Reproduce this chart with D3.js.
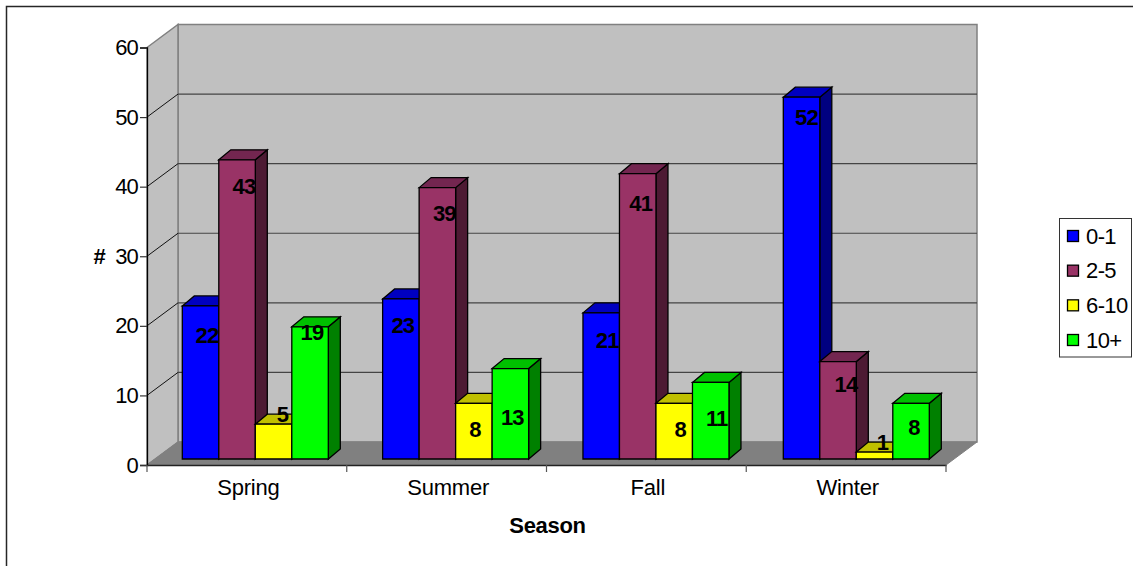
<!DOCTYPE html>
<html>
<head>
<meta charset="utf-8">
<script src="https://cdn.jsdelivr.net/npm/d3@7"></script>
<style>
html,body{margin:0;padding:0;background:#fff;overflow:hidden}
svg{display:block}
text{font-family:"Liberation Sans",Arial,sans-serif;fill:#000}
</style>
</head>
<body>
<div id="chart"></div>
<script>
const seasons = ["Spring","Summer","Fall","Winter"];
const seriesNames = ["0-1","2-5","6-10","10+"];
const v01  = [22,23,21,52];
const v25  = [43,39,41,14];
const v610 = [5,8,8,1];
const v10p = [19,13,11,8];
const seriesValues = [v01,v25,v610,v10p];
const yTicks = [0,10,20,30,40,50,60];

// style
const faceCol = ["#0000ff","#993366","#ffff00","#00ff00"];
const topCol  = ["#0000c0","#732650","#c0c000","#00c000"];
const sideCol = ["#000080","#4d1a33","#808000","#008000"];
// hand-placed label nudges in the reference [series][season] = [dx from bar centre, dy from bar top]
const labelNudge = [
  [[6.5,30],[2,27],[6,28],[5,20]],
  [[7,27],[7,26],[3,30],[8,23]],
  [[9,-10],[1,26],[6,26],[8,-10]],
  [[2,6],[2,49],[6,36],[3,24]]
];

const W=1133,H=566;
const FX0=147,FX1=946,FY0=465,FY1=47.5; // front plane
const DX=31,DY=23;                      // wall depth
const BY=6;                             // bar front offset
const TX=12,TY=10;                      // bar depth
const fs=22;

const x=d3.scaleBand().domain(seasons).range([FX0,FX1]);
const y=d3.scaleLinear().domain([0,60]).range([FY0,FY1]);
const groupX=d3.scalePoint().domain(seasons).range([182.3,783.3]);
const inner=d3.scaleBand().domain(seriesNames).range([0,146]);

const svg=d3.select("#chart").append("svg").attr("width",W).attr("height",H);

// outer frame
svg.append("path").attr("d",`M6.5,${H}V6.5H${W}`).attr("fill","none").attr("stroke","#262626").attr("stroke-width",1.5);

const poly=(pts,f,s,w)=>svg.append("polygon").attr("points",pts.map(p=>p.join(",")).join(" "))
  .attr("fill",f).attr("stroke",s||"none").attr("stroke-width",w||0);

// walls
poly([[FX0+DX,y(60)-DY],[FX1+DX,y(60)-DY],[FX1+DX,y(0)-DY],[FX0+DX,y(0)-DY]],"#c0c0c0","#808080",1.5);
poly([[FX0,y(60)],[FX0+DX,y(60)-DY],[FX0+DX,y(0)-DY],[FX0,y(0)]],"#c0c0c0","#808080",1.5);
poly([[FX0,y(0)],[FX0+DX,y(0)-DY],[FX1+DX,y(0)-DY],[FX1,y(0)]],"#808080","#808080",1);

// gridlines
yTicks.slice(1,-1).forEach(t=>{
  svg.append("line").attr("x1",FX0).attr("y1",y(t)).attr("x2",FX0+DX).attr("y2",y(t)-DY).attr("stroke","#111").attr("stroke-width",1);
  svg.append("line").attr("x1",FX0+DX).attr("y1",y(t)-DY).attr("x2",FX1+DX).attr("y2",y(t)-DY).attr("stroke","#444").attr("stroke-width",1.2);
});

// bars
const bx=(s,n)=>groupX(s)+inner(n);
const by=v=>y(v)-BY;
const bw=inner.bandwidth();
const marks=[];
seasons.forEach((s,j)=>seriesNames.forEach((n,i)=>marks.push({s,n,i,j,val:seriesValues[i][j]})));
marks.forEach(m=>{
  const l=bx(m.s,m.n),r=l+bw,t=by(m.val),b=by(0);
  poly([[r,t],[r+TX,t-TY],[r+TX,b-TY],[r,b]],sideCol[m.i],"#000",1.3);
  poly([[l,t],[l+TX,t-TY],[r+TX,t-TY],[r,t]],topCol[m.i],"#000",1.3);
  poly([[l,t],[r,t],[r,b],[l,b]],faceCol[m.i],"#000",1.3);
});
// data labels
marks.forEach(m=>{
  const nd=labelNudge[m.i][m.j];
  svg.append("text").attr("x",bx(m.s,m.n)+bw/2+nd[0]).attr("y",by(m.val)+nd[1])
    .attr("text-anchor","middle").attr("dominant-baseline","central")
    .attr("font-size",fs).attr("font-weight","bold").attr("letter-spacing",-0.8).text(m.val);
});

// y axis
const yAxis=d3.axisLeft(y).tickValues(yTicks).tickSize(7).tickPadding(2);
const gy=svg.append("g").attr("transform",`translate(${FX0},0)`).call(yAxis);
gy.selectAll(".domain").attr("stroke","#000").attr("stroke-width",1.3);
gy.selectAll(".tick line").attr("stroke","#333").attr("stroke-width",1.2);
gy.selectAll("text").attr("font-size",fs).attr("font-family","Liberation Sans").attr("letter-spacing",-0.8);

// x axis
const xAxis=d3.axisBottom(x).tickSize(0).tickPadding(14);
const gx=svg.append("g").attr("transform",`translate(0,${FY0})`).call(xAxis);
gx.selectAll(".domain").attr("stroke","#222").attr("stroke-width",1.3);
gx.selectAll("text").attr("font-size",fs).attr("font-family","Liberation Sans").attr("letter-spacing",-0.2).attr("dx",1.5);
d3.range(seasons.length+1).forEach(i=>{
  svg.append("line").attr("x1",FX0+i*x.step()).attr("x2",FX0+i*x.step()).attr("y1",FY0).attr("y2",FY0+7)
    .attr("stroke","#555").attr("stroke-width",1.2);
});

// axis titles
svg.append("text").attr("x",547.5).attr("y",533).attr("text-anchor","middle")
  .attr("font-size",fs).attr("font-weight","bold").attr("letter-spacing",-0.3).text("Season");
svg.append("text").attr("x",99.5).attr("y",264).attr("text-anchor","middle")
  .attr("font-size",fs).attr("font-weight","bold").text("#");

// legend
svg.append("rect").attr("x",1059.5).attr("y",218.5).attr("width",72).attr("height",138.5)
  .attr("fill","#fff").attr("stroke","#333").attr("stroke-width",1);
const ly=d3.scalePoint().domain(seriesNames).range([236,340]);
seriesNames.forEach((n,i)=>{
  svg.append("rect").attr("x",1067.5).attr("y",ly(n)-5.5).attr("width",11).attr("height",11)
    .attr("fill",faceCol[i]).attr("stroke","#000").attr("stroke-width",1.3);
  svg.append("text").attr("x",1086).attr("y",ly(n)).attr("dominant-baseline","central")
    .attr("font-size",fs).attr("letter-spacing",-0.6).text(n);
});
</script>
</body>
</html>
